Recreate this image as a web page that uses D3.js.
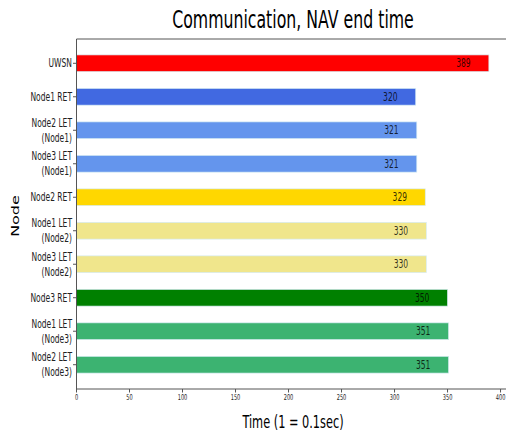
<!DOCTYPE html>
<html>
<head>
<meta charset="utf-8">
<script src="https://cdn.jsdelivr.net/npm/d3@7"></script>
<style>
  html, body { margin: 0; padding: 0; background: #fff; }
  text { font-family: "DejaVu Sans", sans-serif; }
</style>
</head>
<body>
<svg id="chart" width="506" height="433"></svg>
<script>
// bar labels, top to bottom (two-line labels split by \n)
const nodes = [
    "UWSN",
    "Node1 RET",
    "Node2 LET\n(Node1)",
    "Node3 LET\n(Node1)",
    "Node2 RET",
    "Node1 LET\n(Node2)",
    "Node3 LET\n(Node2)",
    "Node3 RET",
    "Node1 LET\n(Node3)",
    "Node2 LET\n(Node3)"
];
const endTimes = [389, 320, 321, 321, 329, 330, 330, 350, 351, 351];
const xTicks = [0, 50, 100, 150, 200, 250, 300, 350, 400];

const barColors = ["red", "royalblue", "cornflowerblue", "cornflowerblue", "gold",
    "khaki", "khaki", "green", "mediumseagreen", "mediumseagreen"];

const squash = 0.63; // picture is squeezed sideways, text follows

let svg = d3.select("#chart");

// matplotlib style limits: bars of height 0.5, 5% margins
let xMax = d3.max(endTimes) * 1.05;
let x = d3.scaleLinear().domain([0, xMax]).range([76.5, 509.5]);
let y = d3.scaleLinear().domain([-0.725, nodes.length - 1 + 0.725]).range([39, 389]);

function squashed(sel, px, py, rot) {
    return sel.attr("transform", `translate(${px},${py}) scale(${squash},1)` + (rot ? ` rotate(${rot})` : ""));
}

// bars
svg.append("g").selectAll("rect")
    .data(endTimes)
    .enter().append("rect")
    .attr("x", x(0))
    .attr("y", (d, i) => y(i - 0.25))
    .attr("width", d => x(d) - x(0))
    .attr("height", y(0.25) - y(-0.25))
    .attr("fill", (d, i) => barColors[i])
    .attr("stroke", "#d6ecf3")
    .attr("stroke-width", 0.7);

// value labels inside bar ends
svg.append("g").selectAll("text")
    .data(endTimes)
    .enter().append("text")
    .each(function (d, i) {
        squashed(d3.select(this), x(d - 24), y(i));
    })
    .attr("text-anchor", "middle")
    .attr("dy", "0.35em")
    .attr("font-size", 12)
    .attr("fill", "#000")
    .attr("fill-opacity", 0.8)
    .text(d => d);

// spines: left, bottom, top
let spine = svg.append("g").attr("stroke", "#555").attr("stroke-width", 1);
spine.append("line").attr("x1", x(0)).attr("x2", x(0)).attr("y1", y.range()[0]).attr("y2", y.range()[1]);
spine.append("line").attr("x1", x(0)).attr("x2", x(xMax)).attr("y1", y.range()[1]).attr("y2", y.range()[1]);
spine.append("line").attr("x1", x(0)).attr("x2", x(xMax)).attr("y1", y.range()[0]).attr("y2", y.range()[0]);

// x ticks
let xt = svg.append("g").selectAll("g")
    .data(xTicks)
    .enter().append("g");
xt.append("line")
    .attr("x1", d => x(d)).attr("x2", d => x(d))
    .attr("y1", 389).attr("y2", 392.5)
    .attr("stroke", "#555");
xt.append("text")
    .each(function (d) { squashed(d3.select(this), x(d), 400); })
    .attr("text-anchor", "middle")
    .attr("font-size", 8)
    .attr("fill", "#222")
    .text(d => d);

// y ticks
let yt = svg.append("g").selectAll("g")
    .data(nodes)
    .enter().append("g");
yt.append("line")
    .attr("x1", x(0) - 3.5).attr("x2", x(0))
    .attr("y1", (d, i) => y(i)).attr("y2", (d, i) => y(i))
    .attr("stroke", "#555");
yt.each(function (d, i) {
    let lines = d.split("\n");
    let t = squashed(d3.select(this).append("text"), 72, y(i))
        .attr("text-anchor", "end")
        .attr("font-size", 12)
        .attr("fill", "#222");
    lines.forEach((ln, k) => {
        t.append("tspan")
            .attr("x", 0)
            .attr("y", (k - (lines.length - 1) / 2) * 15)
            .attr("dy", "0.35em")
            .text(ln);
    });
});

// title and axis labels
squashed(svg.append("text"), (x(0) + x(xMax)) / 2, 28)
    .attr("text-anchor", "middle")
    .attr("font-size", 25)
    .attr("fill", "#000")
    .text("Communication, NAV end time");

squashed(svg.append("text"), (x(0) + x(xMax)) / 2, 428)
    .attr("text-anchor", "middle")
    .attr("font-size", 18)
    .attr("fill", "#000")
    .text("Time (1 = 0.1sec)");

squashed(svg.append("text"), 19, 216, -90)
    .attr("text-anchor", "middle")
    .attr("font-size", 16)
    .attr("fill", "#000")
    .text("Node");
</script>
</body>
</html>
